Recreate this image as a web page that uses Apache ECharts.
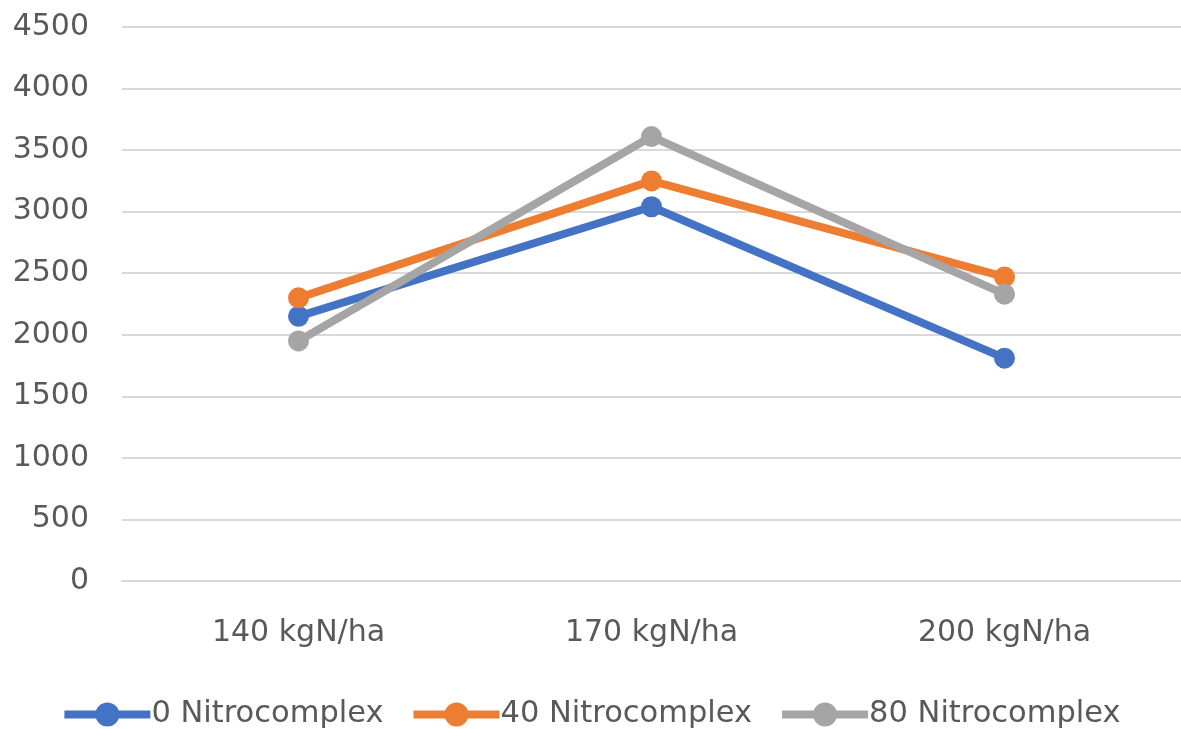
<!DOCTYPE html>
<html><head><meta charset="utf-8">
<script src="https://cdn.jsdelivr.net/npm/echarts@6/dist/echarts.min.js"></script>
<style>html,body{margin:0;padding:0;background:#fff}#c{width:1181px;height:729px}</style>
</head><body><div id="c"></div>
<script>
const categories = ['140 kgN/ha', '170 kgN/ha', '200 kgN/ha'];
const seriesNames = ['0 Nitrocomplex', '40 Nitrocomplex', '80 Nitrocomplex'];
const s0 = [2150, 3040, 1810];
const s40 = [2300, 3250, 2470];
const s80 = [1950, 3610, 2330];
const colors = ['#4472C4', '#ED7D31', '#A5A5A5'];
const font = 'DejaVu Sans';
const chart = echarts.init(document.getElementById('c'));
const mk = (name, data, color) => ({
  name, type: 'line', data, symbol: 'circle', symbolSize: 21,
  lineStyle: { width: 8, color }, itemStyle: { color }, z: 2
});
chart.setOption({
  animation: false,
  grid: { left: 122, top: 27, right: 0, height: 554, containLabel: false },
  legend: {
    bottom: -6, left: 'center', itemWidth: 86, itemHeight: 30, itemGap: 26,
    lineStyle: { width: 8 },
    textStyle: { fontFamily: font, fontSize: 30.5, color: '#595959', padding: [0, 0, 0, -4] },
    data: seriesNames
  },
  xAxis: {
    type: 'category', data: categories,
    axisLine: { lineStyle: { color: '#d9d9d9', width: 2 } },
    axisTick: { show: false },
    axisLabel: { fontFamily: font, fontSize: 30, color: '#595959', margin: 37 }
  },
  yAxis: {
    type: 'value', min: 0, max: 4500, interval: 500,
    axisLine: { show: false }, axisTick: { show: false },
    splitLine: { lineStyle: { color: '#d9d9d9', width: 2 } },
    axisLabel: { fontFamily: font, fontSize: 30, color: '#595959', margin: 33, formatter: v => String(v) }
  },
  series: [mk(seriesNames[0], s0, colors[0]), mk(seriesNames[1], s40, colors[1]), mk(seriesNames[2], s80, colors[2])]
});
</script></body></html>
